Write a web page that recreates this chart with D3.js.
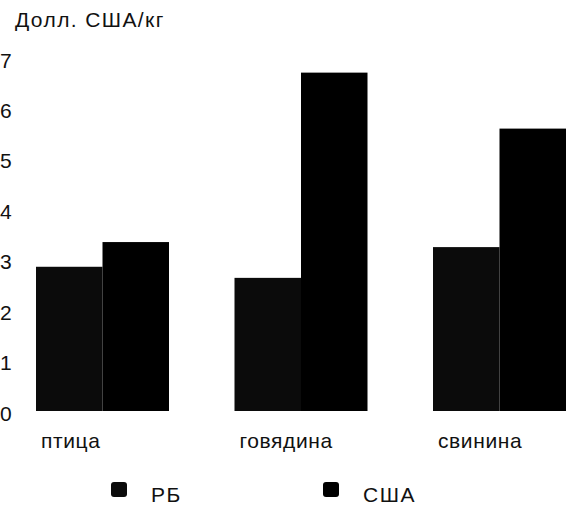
<!DOCTYPE html>
<html>
<head>
<meta charset="utf-8">
<script src="https://cdn.jsdelivr.net/npm/d3@7"></script>
<style>
  body { margin: 0; background: #fff; }
  text { font-family: "Liberation Sans", Arial, sans-serif; fill: #111; }
</style>
</head>
<body>
<svg id="chart" width="570" height="508"></svg>
<script>
// data
var categories = ["птица", "говядина", "свинина"];
var seriesNames = ["РБ", "США"];
var rbValues = [2.86, 2.64, 3.25];
var usaValues = [3.35, 6.71, 5.6];
var yTicks = [0, 1, 2, 3, 4, 5, 6, 7];
var unitLabel = "Долл. США/кг";

var seriesColors = ["#0b0b0b", "#000"];

var svg = d3.select("#chart");

// scales
var x = d3.scaleBand()
  .domain(categories)
  .range([36, 566])
  .paddingInner(0.33)
  .paddingOuter(0);

var xs = d3.scaleBand()
  .domain(seriesNames)
  .range([0, x.bandwidth()]);

var y = d3.scaleLinear()
  .domain([0, 7])
  .range([411, 58]);

// unit label
svg.append("text")
  .attr("x", 15)
  .attr("y", 27)
  .attr("font-size", 21)
  .attr("letter-spacing", 1.4)
  .text(unitLabel);

// y tick labels, no axis line in the original
svg.append("g").selectAll("text")
  .data(yTicks)
  .enter().append("text")
  .attr("x", 0)
  .attr("y", function(d) { return y(d) + 2; })
  .attr("dy", "0.36em")
  .attr("font-size", 21)
  .text(function(d) { return d; });

// bars
var rows = categories.map(function(c, i) {
  return { cat: c, vals: [rbValues[i], usaValues[i]] };
});

var groups = svg.append("g").selectAll("g")
  .data(rows)
  .enter().append("g")
  .attr("transform", function(d) { return "translate(" + x(d.cat) + ",0)"; });

groups.selectAll("rect")
  .data(function(d) { return d.vals.map(function(v, j) { return { s: seriesNames[j], v: v, j: j }; }); })
  .enter().append("rect")
  .attr("x", function(d) { return xs(d.s); })
  .attr("width", xs.bandwidth())
  .attr("y", function(d) { return y(d.v); })
  .attr("height", function(d) { return y(0) - y(d.v); })
  .attr("fill", function(d) { return seriesColors[d.j]; });

// category labels (left-ish, like the scan)
svg.append("g").selectAll("text")
  .data(categories)
  .enter().append("text")
  .attr("x", function(d) { return x(d) + 5; })
  .attr("y", 448)
  .attr("font-size", 21)
  .attr("letter-spacing", 0.6)
  .text(function(d) { return d; });

// legend
var legend = svg.append("g").selectAll("g")
  .data(seriesNames)
  .enter().append("g")
  .attr("transform", function(d, i) { return "translate(" + (111 + i * 212) + ",482)"; });

legend.append("rect")
  .attr("width", 16)
  .attr("height", 15)
  .attr("rx", 3)
  .attr("fill", function(d, i) { return seriesColors[i]; });

legend.append("text")
  .attr("x", 40)
  .attr("y", 20)
  .attr("font-size", 21)
  .attr("letter-spacing", 1.5)
  .text(function(d) { return d; });
</script>
</body>
</html>
